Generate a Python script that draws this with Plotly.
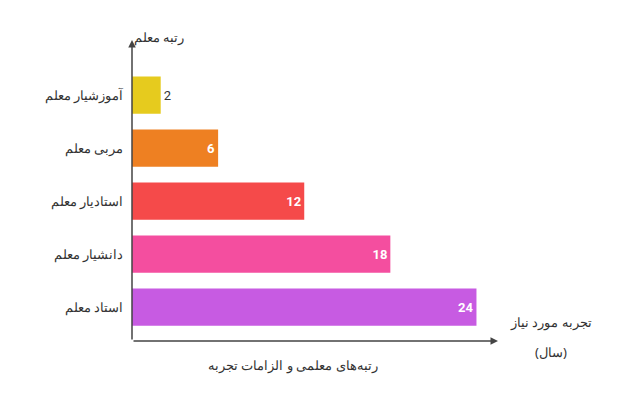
import plotly.graph_objects as go

categories = ["استاد معلم", "دانشیار معلم", "استادیار معلم", "مربی معلم", "آموزشیار معلم"]
years = [24, 18, 12, 6, 2]
colors = ["#C75BE2", "#F44E9F", "#F54A4A", "#EE8022", "#E6CB1E"]

fig = go.Figure(go.Bar(
    x=years, y=categories, orientation="h", marker=dict(color=colors, line=dict(width=0)),
    width=0.7, text=[str(v) for v in years],
    textposition=["inside"] * 4 + ["outside"], insidetextanchor="end",
    cliponaxis=False,
))
fig.update_traces(insidetextfont=dict(family="Roboto", size=13, color="white", weight="bold"),
                  outsidetextfont=dict(family="Roboto", size=13, color="#333333"))
fig.update_layout(
    width=642, height=412, margin=dict(l=124, r=152, t=32, b=79),
    plot_bgcolor="white", paper_bgcolor="white", showlegend=False,
    font=dict(family="Noto Sans", size=13, color="#333333"),
    xaxis=dict(range=[0, 25.5], showgrid=False, showticklabels=False, zeroline=False, showline=False),
    yaxis=dict(range=[-0.64, 5.04], showgrid=False, zeroline=False, showline=False,
               ticks="", ticklabelstandoff=8, tickfont=dict(size=13, color="#333333")),
)
fig.add_annotation(xref="paper", yref="paper", x=0, y=1, ax=0, ay=301, axref="pixel", ayref="pixel",
                   showarrow=True, arrowhead=2, arrowsize=1, arrowwidth=1.5, arrowcolor="#444", text="")
fig.add_annotation(xref="paper", yref="paper", x=1, y=0, ax=-366, ay=0, axref="pixel", ayref="pixel",
                   showarrow=True, arrowhead=2, arrowsize=1, arrowwidth=1.5, arrowcolor="#444", text="")
fig.add_annotation(xref="paper", yref="paper", x=0.0, y=1.0, yshift=14, text="رتبه معلم",
                   showarrow=False, font=dict(size=13))
fig.add_annotation(xref="paper", yref="paper", x=1.0, y=0.0, xshift=10, yshift=8, xanchor="left",
                   text="تجربه مورد نیاز", showarrow=False, font=dict(size=13))
fig.add_annotation(xref="paper", yref="paper", x=1.0, y=0.0, xshift=35, yshift=-22, xanchor="left",
                   text="(سال)", showarrow=False, font=dict(size=13))
fig.add_annotation(xref="paper", yref="paper", x=0.44, y=0.0, yshift=-35, text="رتبه‌های معلمی و الزامات تجربه",
                   showarrow=False, font=dict(size=13))
fig.write_html("out.html")
